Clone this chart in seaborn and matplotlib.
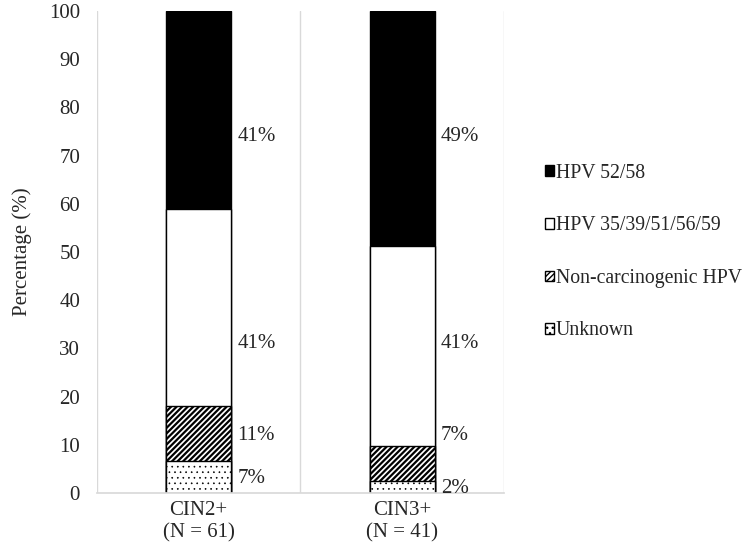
import matplotlib.pyplot as plt
import matplotlib as mpl
from matplotlib.patches import Patch
import seaborn as sns
import pandas as pd
import numpy as np

sns.set_theme(style='white')
plt.rcParams['font.family'] = ['Liberation Serif', 'DejaVu Serif']

# data (percent of cases)
groups = ['CIN2+\n(N = 61)', 'CIN3+\n(N = 41)']
types = ['Unknown', 'Non-carcinogenic HPV', 'HPV 35/39/51/56/59', 'HPV 52/58']
unknown = [6.56, 2.44]
noncarc = [11.48, 7.32]
hpv_other = [40.98, 41.46]
hpv_5258 = [40.98, 48.78]
labels_cin2 = ['7%', '11%', '41%', '41%']
labels_cin3 = ['2%', '7%', '41%', '49%']
label_y_cin2 = [3, 12, 31, 74]
label_y_cin3 = [1, 12, 31, 74]

series = [unknown, noncarc, hpv_other, hpv_5258]
styles = [('white', '...', 0.45), ('white', '//////', 1.6), ('white', '', 1.0), ('black', '', 1.0)]

fs = 15

fig = plt.figure(figsize=(7.5, 5.54), dpi=100)
ax = fig.add_axes([0.129, 0.110, 0.543, 0.870])

cum = np.cumsum(np.array(series), axis=0)
# draw tallest stack first so lower segments sit on top
for i in range(len(series) - 1, -1, -1):
    color, hatch, hlw = styles[i]
    df = pd.DataFrame({'group': groups, 'top': cum[i]})
    with mpl.rc_context({'hatch.linewidth': hlw}):
        sns.barplot(data=df, x='group', y='top', ax=ax, color=color,
                    edgecolor='black', linewidth=1.0, hatch=hatch or None,
                    width=0.32, saturation=1)

for j, (labs, ys) in enumerate([(labels_cin2, label_y_cin2), (labels_cin3, label_y_cin3)]):
    for lab, yv in zip(labs, ys):
        ax.text(j + 0.19, yv, lab, va='center', ha='left', fontsize=fs)

ax.set_xlim(-0.5, 1.5)
ax.set_ylim(0, 100)
ax.set_yticks(range(0, 101, 10))
for xv in [-0.5, 0.5, 1.5]:
    ax.axvline(xv, color='#d9d9d9', linewidth=1.0, zorder=0)
for s in ['top', 'right', 'left']:
    ax.spines[s].set_visible(False)
ax.spines['bottom'].set_color('#d9d9d9')
ax.tick_params(axis='y', length=0, labelsize=fs, pad=12)
ax.tick_params(axis='x', length=0, labelsize=fs, pad=6)
ax.set_xlabel('')
ax.set_ylabel('Percentage (%)', fontsize=fs, labelpad=12)

with mpl.rc_context({'hatch.linewidth': 0.8}):
    handles = [
        Patch(facecolor='black', edgecolor='black', label='HPV 52/58'),
        Patch(facecolor='white', edgecolor='black', label='HPV 35/39/51/56/59'),
        Patch(facecolor='white', edgecolor='black', hatch='//////', label='Non-carcinogenic HPV'),
        Patch(facecolor='white', edgecolor='black', hatch='...', label='Unknown'),
    ]
fig.legend(handles=handles, loc='center left', bbox_to_anchor=(0.703, 0.545),
           frameon=False, fontsize=14.2, handlelength=0.45, handleheight=0.45,
           handletextpad=0.1, labelspacing=1.7)

fig.savefig('out.png', dpi=100)
